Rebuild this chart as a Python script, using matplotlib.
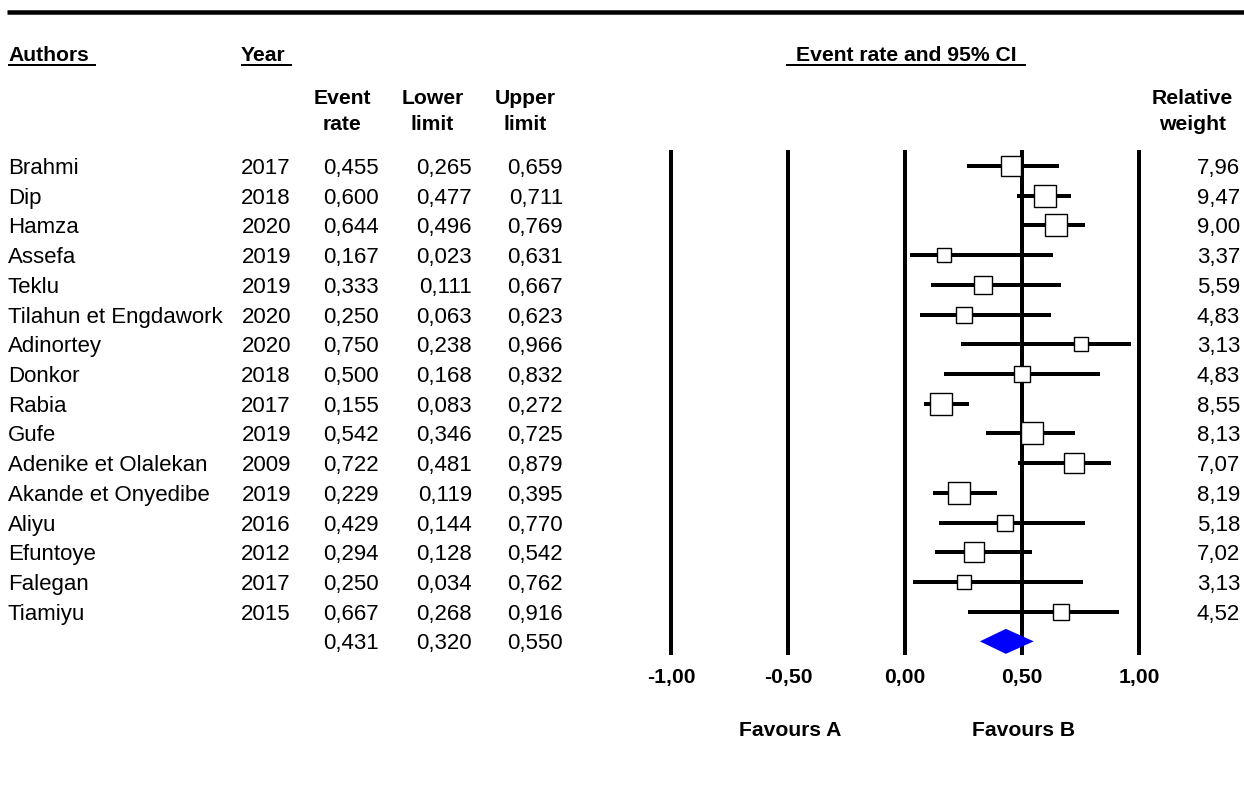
import numpy as np
import matplotlib
matplotlib.use("Agg")
import matplotlib.pyplot as plt
from matplotlib import transforms
from matplotlib.lines import Line2D

# ---- study data -------------------------------------------------------
authors = ["Brahmi", "Dip", "Hamza", "Assefa", "Teklu", "Tilahun et Engdawork",
           "Adinortey", "Donkor", "Rabia", "Gufe", "Adenike et Olalekan",
           "Akande et Onyedibe", "Aliyu", "Efuntoye", "Falegan", "Tiamiyu"]
years = [2017, 2018, 2020, 2019, 2019, 2020, 2020, 2018, 2017, 2019, 2009,
         2019, 2016, 2012, 2017, 2015]
event_rate = [0.455, 0.600, 0.644, 0.167, 0.333, 0.250, 0.750, 0.500, 0.155,
              0.542, 0.722, 0.229, 0.429, 0.294, 0.250, 0.667]
lower_limit = [0.265, 0.477, 0.496, 0.023, 0.111, 0.063, 0.238, 0.168, 0.083,
               0.346, 0.481, 0.119, 0.144, 0.128, 0.034, 0.268]
upper_limit = [0.659, 0.711, 0.769, 0.631, 0.667, 0.623, 0.966, 0.832, 0.272,
               0.725, 0.879, 0.395, 0.770, 0.542, 0.762, 0.916]
rel_weight = [7.96, 9.47, 9.00, 3.37, 5.59, 4.83, 3.13, 4.83, 8.55, 8.13, 7.07,
              8.19, 5.18, 7.02, 3.13, 4.52]

pooled_rate, pooled_lower, pooled_upper = 0.431, 0.320, 0.550

x_ticks = [-1.0, -0.5, 0.0, 0.5, 1.0]
tick_labels = ["-1,00", "-0,50", "0,00", "0,50", "1,00"]

# ---- figure set-up ----------------------------------------------------
W, H, DPI = 1244, 786, 100
plt.rcParams["font.family"] = ["Liberation Sans", "DejaVu Sans"]
fig = plt.figure(figsize=(W / DPI, H / DPI), dpi=DPI)
fig.patch.set_facecolor("white")

def fx(px):
    return px / W

def fy(py):
    return 1 - py / H

REG = 16
BOLD = 15.2
ROW0, ROWSTEP = 166.0, 29.71   # pixel centre of first row, row pitch

# forest-plot axes
ax_left, ax_right, ax_top, ax_bot = 671, 1139, 150, 655
ax = fig.add_axes([fx(ax_left), fy(ax_bot), (ax_right - ax_left) / W,
                   (ax_bot - ax_top) / H])
ax.set_xlim(-1, 1)
ax.set_ylim((ax_bot - ROW0) / ROWSTEP, (ax_top - ROW0) / ROWSTEP)
for s in ax.spines.values():
    s.set_visible(False)
ax.set_yticks([])
ax.set_xticks(x_ticks)
ax.set_xticklabels(tick_labels, fontsize=BOLD, fontweight="bold")
ax.tick_params(axis="x", length=0, pad=9)
ax.patch.set_alpha(0)

px_to_pt = 72 / DPI

# vertical reference lines
for xv in x_ticks:
    ax.axvline(xv, color="black", lw=4 * px_to_pt, zorder=1, clip_on=False,
               solid_capstyle="butt")

rows = np.arange(len(authors))
# confidence intervals and weighted boxes
ax.hlines(rows, lower_limit, upper_limit, color="black", lw=4 * px_to_pt,
          zorder=2, capstyle="butt")
for r, est, w in zip(rows, event_rate, rel_weight):
    side = 7.4 * np.sqrt(w) * px_to_pt
    ax.plot(est, r, marker="s", ms=side, mfc="white", mec="black", mew=1.0,
            zorder=3, clip_on=False)

# pooled estimate diamond
pooled_row = len(authors)
dh = 12.5 / ROWSTEP
ax.fill([pooled_lower, pooled_rate, pooled_upper, pooled_rate],
        [pooled_row, pooled_row - dh, pooled_row, pooled_row + dh],
        color="#0000FF", lw=0, zorder=4, clip_on=False)

# ---- table columns ----------------------------------------------------
trans = transforms.blended_transform_factory(fig.transFigure, ax.transData)
base = 8.0 / ROWSTEP   # baseline offset below row centre


def fmt(v, n=3):
    return f"{v:.{n}f}".replace(".", ",")


for r in rows:
    y = r + base
    fig.text(fx(8), y, authors[r], transform=trans, fontsize=REG,
             ha="left", va="baseline")
    fig.text(fx(291), y, str(years[r]), transform=trans, fontsize=REG,
             ha="right", va="baseline")
    fig.text(fx(379), y, fmt(event_rate[r]), transform=trans, fontsize=REG,
             ha="right", va="baseline")
    fig.text(fx(472), y, fmt(lower_limit[r]), transform=trans, fontsize=REG,
             ha="right", va="baseline")
    fig.text(fx(563), y, fmt(upper_limit[r]), transform=trans, fontsize=REG,
             ha="right", va="baseline")
    fig.text(fx(1240), y, fmt(rel_weight[r], 2), transform=trans,
             fontsize=REG, ha="right", va="baseline")

y = pooled_row + base
for xr, v in zip([379, 472, 563], [pooled_rate, pooled_lower, pooled_upper]):
    fig.text(fx(xr), y, fmt(v), transform=trans, fontsize=REG,
             ha="right", va="baseline")

# ---- headers ----------------------------------------------------------
fig.add_artist(Line2D([fx(7), fx(1244)], [fy(12), fy(12)], color="black",
                      lw=4.5 * px_to_pt, solid_capstyle="butt"))

hdr = dict(fontsize=BOLD, fontweight="bold", va="baseline")
fig.text(fx(8), fy(61), "Authors", ha="left", **hdr)
fig.text(fx(241), fy(61), "Year", ha="left", **hdr)
fig.text(fx(906), fy(61), "Event rate and 95% CI", ha="center", **hdr)
for x0, x1 in [(8, 96), (241, 292), (786, 1026)]:
    fig.add_artist(Line2D([fx(x0), fx(x1)], [fy(64.5), fy(64.5)],
                          color="black", lw=2 * px_to_pt,
                          solid_capstyle="butt"))

for xc, l1, l2 in [(342, "Event", "rate"), (432.5, "Lower", "limit"),
                   (525, "Upper", "limit"), (1192.5, "Relative", "weight")]:
    fig.text(fx(xc), fy(104), l1, ha="center", **hdr)
    fig.text(fx(xc), fy(130), l2, ha="center", **hdr)

fig.text(fx(790), fy(736), "Favours A", ha="center", **hdr)
fig.text(fx(1024), fy(736), "Favours B", ha="center", **hdr)

fig.savefig("out.png", dpi=DPI, facecolor="white")
